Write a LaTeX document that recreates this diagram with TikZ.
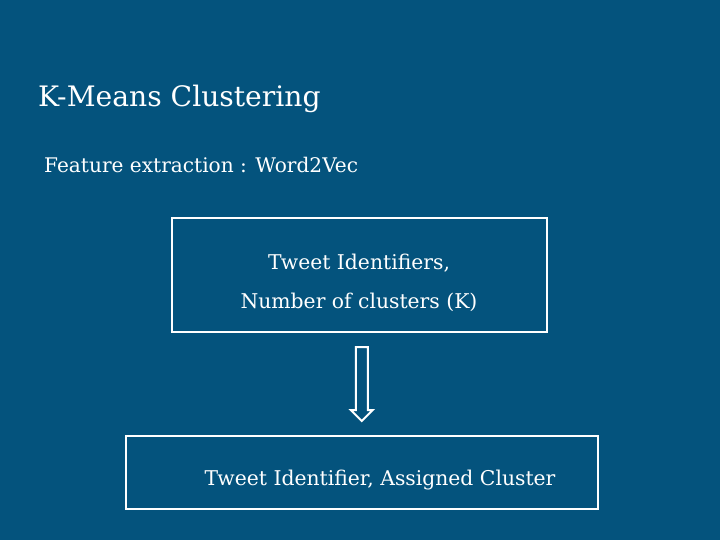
\documentclass[tikz,border=0pt]{standalone}
\usepackage{fontspec}
\setmainfont{DejaVu Serif}
\usetikzlibrary{shapes.arrows}
\definecolor{slideblue}{HTML}{04537D}

\begin{document}
\begin{tikzpicture}[x=1bp,y=-1bp,
    box/.style={draw=white,line width=2.5bp,inner sep=0pt},
    txt/.style={text=white,inner sep=0pt,anchor=base,font=\fontsize{20.4}{24}\selectfont},
    flow/.style={single arrow,draw=white,line width=2bp,rotate=-90,
      inner xsep=0pt,inner ysep=5bp,minimum height=74bp,minimum width=20bp,
      single arrow head extend=5bp}]
    \fill[slideblue] (0,0) rectangle (720,540);
    \useasboundingbox (0,0) rectangle (720,540);

    \node[txt,anchor=base west,font=\fontsize{28.3}{34}\selectfont] (title) at (38,107) {K-Means Clustering};
    \node[txt,anchor=base west,font=\fontsize{20.2}{24}\selectfont] (feat) at (44,173) {Feature extraction : Word2Vec};

    \node[box,minimum width=375bp,minimum height=114bp] (input) at (359.5,275) {};
    \node[txt] (ids) at (359,270) {Tweet Identifiers,};
    \node[txt] (k) at (359,308) {Number of clusters (K)};

    \node[box,minimum width=472bp,minimum height=73bp] (output) at (362,472.5) {};
    \node[txt] (res) at (380,485) {Tweet Identifier, Assigned Cluster};

    \path (input.south) -- ([xshift=2bp,yshift=6bp]output.north) node[flow,midway] (step) {};
\end{tikzpicture}
\end{document}
